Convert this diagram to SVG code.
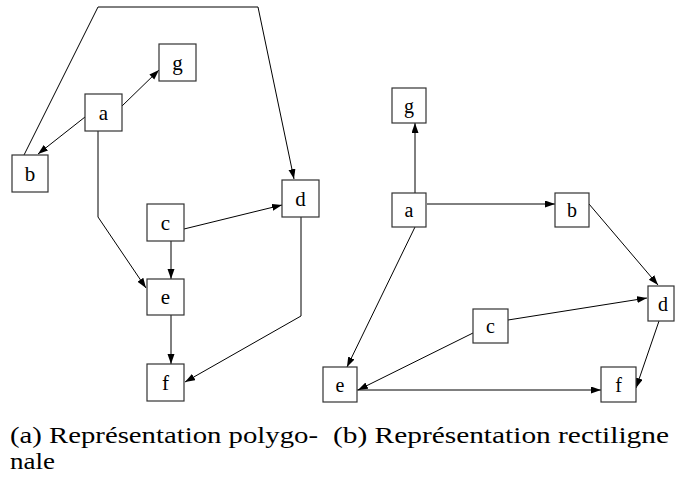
<svg xmlns="http://www.w3.org/2000/svg" width="675" height="479" viewBox="0 0 675 479">
<style>
.n rect{fill:#fff;stroke:#333;stroke-width:1.2}
.n text{font-family:"Liberation Serif",serif;font-size:21px;text-anchor:middle;fill:#000}
.r text{font-size:20px}
.e path{fill:none;stroke:#000;stroke-width:1}
.cap{font-family:"Liberation Serif",serif;font-size:23px;fill:#000}
</style>
<defs>
<marker id="ah" markerUnits="userSpaceOnUse" markerWidth="11" markerHeight="8" refX="10" refY="3.5" orient="auto">
<path d="M0,0 L10,3.5 L0,7 z" fill="#000"/>
</marker>
</defs>
<rect width="675" height="479" fill="#fff"/>
<g class="e">
<path d="M122,106 L159,70" marker-end="url(#ah)"/>
<path d="M85,117 L38,154" marker-end="url(#ah)"/>
<path d="M24,155 L98,7 L258,7 L294,179" marker-end="url(#ah)"/>
<path d="M98,131 L98,217 L146,288" marker-end="url(#ah)"/>
<path d="M184,229 L282,205" marker-end="url(#ah)"/>
<path d="M171,241 L171,279" marker-end="url(#ah)"/>
<path d="M171,315 L171,364" marker-end="url(#ah)"/>
<path d="M301,217 L301,316 L185,382" marker-end="url(#ah)"/>
<path d="M415,193 L415,123" marker-end="url(#ah)"/>
<path d="M427,204 L555,204" marker-end="url(#ah)"/>
<path d="M589,204 L658,285" marker-end="url(#ah)"/>
<path d="M415,227 L347,367" marker-end="url(#ah)"/>
<path d="M508,320 L647,298" marker-end="url(#ah)"/>
<path d="M473,333 L358,390" marker-end="url(#ah)"/>
<path d="M357,390 L601,390" marker-end="url(#ah)"/>
<path d="M659,321 L636,388" marker-end="url(#ah)"/>
</g>
<g class="n" id="L-g"><rect x="159" y="44" width="37" height="37"/><text x="177.5" y="69.5">g</text></g>
<g class="n" id="L-a"><rect x="85" y="94" width="37" height="37"/><text x="103.5" y="119.5">a</text></g>
<g class="n" id="L-b"><rect x="12" y="155" width="36" height="37"/><text x="30" y="180.5">b</text></g>
<g class="n" id="L-d"><rect x="282" y="180" width="37" height="37"/><text x="300.5" y="205.5">d</text></g>
<g class="n" id="L-c"><rect x="147" y="204" width="37" height="37"/><text x="165.5" y="229.5">c</text></g>
<g class="n" id="L-e"><rect x="147" y="279" width="37" height="36"/><text x="165.5" y="304">e</text></g>
<g class="n" id="L-f"><rect x="147" y="364" width="37" height="37"/><text x="165.5" y="389.5">f</text></g>
<g class="n r" id="R-g"><rect x="392" y="88" width="34" height="35"/><text x="409" y="112.5">g</text></g>
<g class="n r" id="R-a"><rect x="392" y="193" width="34" height="34"/><text x="409" y="217">a</text></g>
<g class="n r" id="R-b"><rect x="555" y="193" width="34" height="34"/><text x="572" y="217">b</text></g>
<g class="n r" id="R-c"><rect x="473" y="309" width="35" height="34"/><text x="490.5" y="333">c</text></g>
<g class="n r" id="R-d"><rect x="648" y="286" width="26" height="35"/><text x="663" y="310.5">d</text></g>
<g class="n r" id="R-e"><rect x="323" y="367" width="34" height="35"/><text x="340" y="391.5">e</text></g>
<g class="n r" id="R-f"><rect x="601" y="367" width="35" height="35"/><text x="618.5" y="391.5">f</text></g>
<text class="cap" x="10" y="443" textLength="308" lengthAdjust="spacingAndGlyphs">(a) Représentation polygo-</text>
<text class="cap" x="10" y="469" textLength="45" lengthAdjust="spacingAndGlyphs">nale</text>
<text class="cap" x="333" y="443" textLength="336" lengthAdjust="spacingAndGlyphs">(b) Représentation rectiligne</text>
</svg>
